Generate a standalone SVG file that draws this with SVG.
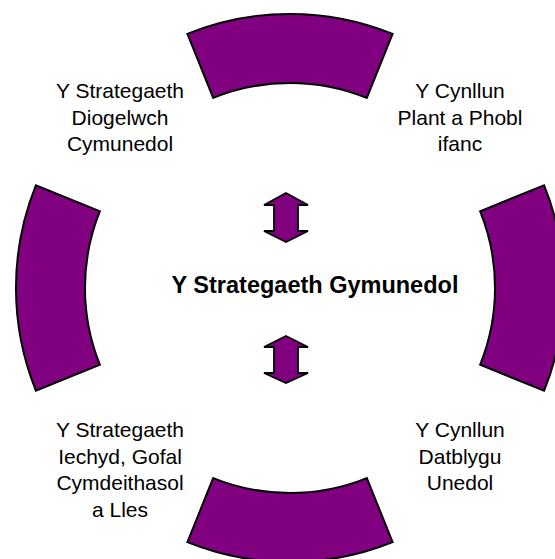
<svg xmlns="http://www.w3.org/2000/svg" width="555" height="559" viewBox="0 0 555 559">
<style>
.seg{fill:#800080;stroke:#000;stroke-width:2;stroke-linejoin:miter}
.arr{fill:#800080;stroke:#000;stroke-width:1.8;stroke-linejoin:miter}
.lbl{font-family:"Liberation Sans",Arial,sans-serif;font-size:21px;fill:#000;text-anchor:middle}
.ctr{font-family:"Liberation Sans",Arial,sans-serif;font-size:23.5px;font-weight:bold;fill:#000;text-anchor:middle}
</style>
<rect width="555" height="559" fill="#fff"/>
<g id="seg-top"><path class="seg" d="M187.4,33.9 A274,274 0 0 1 392.6,33.9 L366.8,97.9 A205,205 0 0 0 213.2,97.9 Z"/></g>
<g id="seg-bottom"><path class="seg" d="M187.4,542.1 A274,274 0 0 0 392.6,542.1 L366.8,478.1 A205,205 0 0 1 213.2,478.1 Z"/></g>
<g id="seg-left"><path class="seg" d="M35.9,185.4 A274,274 0 0 0 35.9,390.6 L99.9,364.8 A205,205 0 0 1 99.9,211.2 Z"/></g>
<g id="seg-right"><path class="seg" d="M544.1,185.4 A274,274 0 0 1 544.1,390.6 L480.1,364.8 A205,205 0 0 0 480.1,211.2 Z"/></g>
<g id="connectors">
<path class="arr" d="M286,193 L308,205 L298,205 L298,231 L308,231 L286,242 L264,231 L274,231 L274,205 L264,205 Z"/>
<path class="arr" d="M286,336 L308,347 L298,347 L298,373 L308,373 L286,383 L264,373 L274,373 L274,347 L264,347 Z"/>
</g>
<g id="center"><text class="ctr" x="315" y="293">Y Strategaeth Gymunedol</text></g>
<g id="label-tl"><text class="lbl" x="120" y="98">Y Strategaeth</text><text class="lbl" x="120" y="124.5">Diogelwch</text><text class="lbl" x="120" y="151">Cymunedol</text></g>
<g id="label-tr"><text class="lbl" x="460" y="98">Y Cynllun</text><text class="lbl" x="460" y="124.5">Plant a Phobl</text><text class="lbl" x="460" y="151">ifanc</text></g>
<g id="label-bl"><text class="lbl" x="120" y="437">Y Strategaeth</text><text class="lbl" x="120" y="463.5">Iechyd, Gofal</text><text class="lbl" x="120" y="490">Cymdeithasol</text><text class="lbl" x="120" y="516.5">a Lles</text></g>
<g id="label-br"><text class="lbl" x="460" y="437">Y Cynllun</text><text class="lbl" x="460" y="463.5">Datblygu</text><text class="lbl" x="460" y="490">Unedol</text></g>
</svg>
